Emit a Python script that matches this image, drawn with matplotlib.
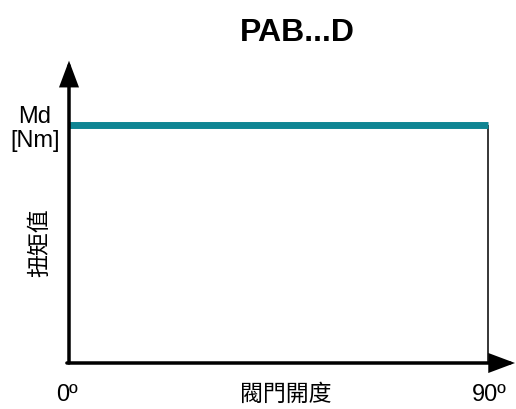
import matplotlib
matplotlib.use("Agg")
import matplotlib.pyplot as plt

# Data
angle = [0, 90]          # valve opening in degrees
torque = [1, 1]          # constant torque (relative)
title = "PAB...D"
x_tick_labels = ["0º", "90º"]
x_label = "閥門開度"
y_unit = "Md\n[Nm]"
y_label = "扭矩值"

W, H = 516, 409
fig = plt.figure(figsize=(W / 100, H / 100), dpi=100)

def fx(px):
    return px / W

def fy(py):
    return 1 - py / H

left, right, bottom, top = 69, 488, 363, 124.5
ax = fig.add_axes([fx(left), fy(bottom), fx(right - left), (bottom - top) / H])
ax.set_xlim(0, 90)
ax.set_ylim(0, 1)
ax.axis("off")

teal = "#0f8593"
ax.plot(angle, torque, color=teal, lw=5.0, solid_capstyle="butt", clip_on=False, zorder=3)
ax.vlines(angle[-1], 0, torque[-1], color="black", lw=1.1, clip_on=False, zorder=2)

px2pt = 72 / 100
arrow_kw = dict(arrowstyle=f"-|>,head_length={20 * px2pt},head_width={7.5 * px2pt}",
                lw=3.5 * px2pt, color="black", mutation_scale=1,
                shrinkA=0, shrinkB=0, joinstyle="miter")
ax.annotate("", xy=(0, (bottom - 60.7) / (bottom - top)), xytext=(0, 0),
            xycoords="axes fraction", textcoords="axes fraction",
            arrowprops=arrow_kw, annotation_clip=False, zorder=4)
ax.annotate("", xy=((515 - left) / (right - left), 0), xytext=(-0.005, 0),
            xycoords="axes fraction", textcoords="axes fraction",
            arrowprops=arrow_kw, annotation_clip=False, zorder=4)

fam = ["Liberation Sans", "Noto Sans CJK TC", "DejaVu Sans"]
cjk = ["Noto Sans CJK TC", "DejaVu Sans"]

fig.text(fx(297), fy(33), title, ha="center", va="center",
         fontsize=23, fontweight="bold", family=fam)
fig.text(fx(35), fy(129), y_unit, ha="center", va="center",
         fontsize=17, family=fam, linespacing=1.1)
fig.text(fx(40), fy(243), y_label, ha="center", va="center",
         fontsize=16.5, family=cjk, rotation=90)
fig.text(fx(67), fy(395), x_tick_labels[0], ha="center", va="center",
         fontsize=17, family=fam)
fig.text(fx(489), fy(395), x_tick_labels[1], ha="center", va="center",
         fontsize=17, family=fam)
fig.text(fx(286), fy(394), x_label, ha="center", va="center",
         fontsize=16.5, family=cjk)

fig.savefig("out.png", dpi=100)
